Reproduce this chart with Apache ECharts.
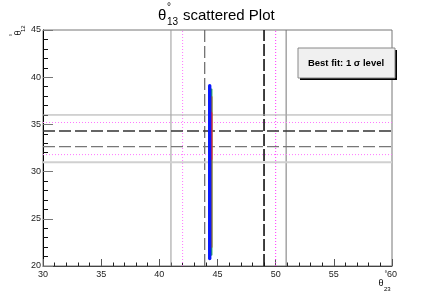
<!DOCTYPE html>
<html>
<head>
<meta charset="utf-8">
<script src="https://cdn.jsdelivr.net/npm/echarts@6/dist/echarts.min.js"></script>
<style>html,body{margin:0;padding:0;background:#fff}#c{width:436px;height:296px}</style>
</head>
<body>
<div id="c"></div>
<script>
// ---- data ----
const xTicks = [30, 35, 40, 45, 50, 55, 60];
const yTicks = [20, 25, 30, 35, 40, 45];
// vertical reference lines (theta23)
const vLineX = [41.0, 42.0, 43.9, 49.0, 50.0, 50.9];
// horizontal reference lines (theta12)
const hLineY = [36.0, 35.2, 34.3, 32.65, 31.8, 31.0];
// scattered region (1 sigma) pieces
const blueX = [44.33, 44.33];
const blueY = [20.8, 39.1];
const greenX = [44.48, 44.48];
const greenY = [21.2, 38.7];
const brownX = [44.49, 44.49];
const brownY = [22.0, 37.9];
const redX = [44.47, 44.47];
const redY = [31.3, 36.2];
const legendText = 'Best fit: 1 σ level';

const FONT = "'Liberation Sans', Arial, Helvetica, sans-serif";

const vStyles = [
  {color:'#999', width:1, type:'solid'},
  {color:'#ff77ff', width:1, type:[1,2]},
  {color:'#666', width:1.2, type:[12,4]},
  {color:'#111', width:1.6, type:[12,3]},
  {color:'#ff33ff', width:1, type:[1,2]},
  {color:'#777', width:1, type:'solid'}
];
const hStyles = [
  {color:'#aaa', width:1, type:'solid'},
  {color:'#ff77ff', width:1, type:[1,2]},
  {color:'#333', width:1.6, type:[12,4]},
  {color:'#777', width:1.2, type:[12,4]},
  {color:'#ff77ff', width:1, type:[1,2]},
  {color:'#d0d0d0', width:2, type:'solid'}
];

const series = [];
vLineX.forEach((x, i) => {
  series.push({type:'line', data:[[x, yTicks[0]], [x, yTicks[yTicks.length-1]]], showSymbol:false, silent:true,
    lineStyle:vStyles[i], z:2});
});
hLineY.forEach((y, i) => {
  series.push({type:'line', data:[[xTicks[0], y], [xTicks[xTicks.length-1], y]], showSymbol:false, silent:true,
    lineStyle:hStyles[i], z:2});
});
function seg(xs, ys, color, width, z) {
  return {type:'line', data:[[xs[0], ys[0]], [xs[1], ys[1]]], showSymbol:false, silent:true,
    lineStyle:{color:color, width:width, cap:'round'}, z:z};
}
series.push(seg(greenX, greenY, '#30b050', 2, 5));
series.push(seg(brownX, brownY, '#a06a28', 1.8, 6));
series.push(seg(redX, redY, '#ff2020', 2, 7));
series.push(seg(blueX, blueY, '#0a1aff', 3.4, 8));

const chart = echarts.init(document.getElementById('c'), null, {renderer:'canvas'});
chart.setOption({
  animation:false,
  backgroundColor:'#fff',
  grid:{left:43, right:44, top:30, bottom:30, show:true, borderColor:'#777', borderWidth:1, containLabel:false, outerBoundsMode:'none'},
  xAxis:{type:'value', min:30, max:60, interval:5,
    axisLine:{show:true, onZero:false, lineStyle:{color:'#444', width:1}},
    axisTick:{show:true, inside:true, length:7, lineStyle:{color:'#555'}},
    minorTick:{show:true, splitNumber:5, length:3.5, lineStyle:{color:'#222'}},
    splitLine:{show:false},
    axisLabel:{margin:4, fontSize:9, fontFamily:FONT, color:'#222'}
  },
  yAxis:{type:'value', min:20, max:45, interval:5,
    axisLine:{show:true, onZero:false, lineStyle:{color:'#000', width:1}},
    axisTick:{show:true, inside:true, length:10, lineStyle:{color:'#777'}},
    minorTick:{show:true, splitNumber:5, length:5, lineStyle:{color:'#111'}},
    splitLine:{show:false},
    axisLabel:{margin:2, fontSize:9, fontFamily:FONT, color:'#222'}
  },
  series:series,
  graphic:[
    // title
    {type:'text', x:158, y:16, style:{text:'θ', font:'15px '+FONT, fill:'#000', textAlign:'left', textVerticalAlign:'middle'}},
    {type:'text', x:167, y:7, style:{text:'°', font:'10px '+FONT, fill:'#000', textAlign:'left', textVerticalAlign:'middle'}},
    {type:'text', x:167, y:22, style:{text:'13', font:'10px '+FONT, fill:'#000', textAlign:'left', textVerticalAlign:'middle'}},
    {type:'text', x:183, y:16, style:{text:'scattered Plot', font:'15px '+FONT, fill:'#000', textAlign:'left', textVerticalAlign:'middle'}},
    // y-axis title (rotated)
    {type:'group', x:19, y:33, rotation:Math.PI/2, children:[
      {type:'text', x:0, y:0, style:{text:'θ', font:'9px '+FONT, fill:'#000', textAlign:'center', textVerticalAlign:'middle'}},
      {type:'text', x:1, y:4, style:{text:'12', font:'6px '+FONT, fill:'#000', textAlign:'left', textVerticalAlign:'middle'}},
      {type:'text', x:-2, y:-6, style:{text:'°', font:'7px '+FONT, fill:'#000', textAlign:'center', textVerticalAlign:'middle'}}
    ]},
    // x-axis title
    {type:'text', x:381, y:284, style:{text:'θ', font:'9px '+FONT, fill:'#000', textAlign:'center', textVerticalAlign:'middle'}},
    {type:'text', x:384, y:289, style:{text:'23', font:'6px '+FONT, fill:'#000', textAlign:'left', textVerticalAlign:'middle'}},
    {type:'text', x:386, y:274, style:{text:'°', font:'7px '+FONT, fill:'#000', textAlign:'center', textVerticalAlign:'middle'}},
    // legend box
    {type:'rect', shape:{x:300, y:50, width:97, height:30}, style:{fill:'#000'}, z:100},
    {type:'rect', shape:{x:298, y:48, width:97, height:30}, style:{fill:'#f0f0f0', stroke:'#888', lineWidth:1}, z:101},
    {type:'text', x:346, y:63, z:102, style:{text:legendText, font:'bold 9.5px '+FONT, fill:'#000', textAlign:'center', textVerticalAlign:'middle'}}
  ]
});
</script>
</body>
</html>
